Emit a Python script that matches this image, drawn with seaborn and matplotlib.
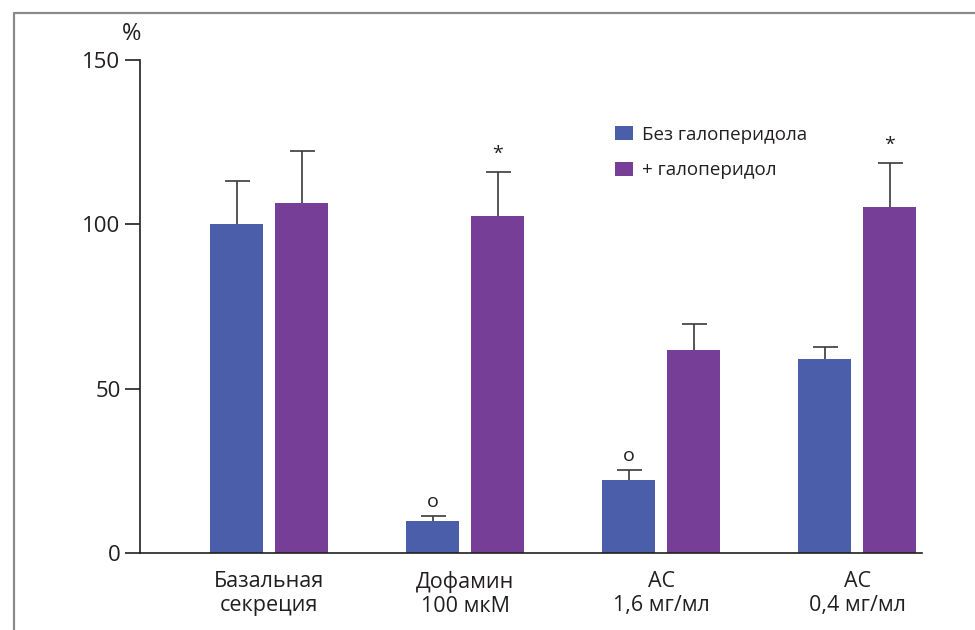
import matplotlib
matplotlib.use("Agg")
import matplotlib.pyplot as plt
from matplotlib.lines import Line2D
import seaborn as sns
import pandas as pd

# Secretion levels (% of basal) with and without haloperidol
categories = ["Базальная\nсекреция", "Дофамин\n100 мкМ", "АС\n1,6 мг/мл", "АС\n0,4 мг/мл"]
series_names = ["Без галоперидола", "+ галоперидол"]
without_halo = [100.0, 9.7, 22.2, 58.9]
without_halo_err = [13.1, 1.5, 3.0, 3.9]
with_halo = [106.4, 102.6, 61.9, 105.4]
with_halo_err = [15.8, 13.4, 7.9, 13.3]
# significance marks drawn above the error caps
marks_without = ["", "o", "o", ""]
marks_with = ["", "*", "", "*"]
y_ticks = [0, 50, 100, 150]

df = pd.DataFrame({
    "cat": categories * 2,
    "series": [series_names[0]] * 4 + [series_names[1]] * 4,
    "value": without_halo + with_halo,
})

sns.set_theme(style="white")
plt.rcParams["font.family"] = ["Open Sans", "DejaVu Sans"]
text_color = "#231f20"

fig = plt.figure(figsize=(9.75, 6.3), dpi=100)
ax = fig.add_axes([140 / 975, 1 - 553 / 630, (922 - 140) / 975, (553 - 60) / 630])

palette = {series_names[0]: "#4a5ea9", series_names[1]: "#763e96"}
sns.barplot(data=df, x="cat", y="value", hue="series", order=categories,
            hue_order=series_names, palette=palette, width=0.663, gap=0.186,
            errorbar=None, saturation=1, ax=ax, linewidth=0)

errs = [without_halo_err, with_halo_err]
vals = [without_halo, with_halo]
marks = [marks_without, marks_with]
for cont, v, e, m in zip(ax.containers, vals, errs, marks):
    xs = [b.get_x() + b.get_width() / 2 for b in cont]
    _, caps, _ = ax.errorbar(xs, v, yerr=[[0] * len(e), e], fmt="none", ecolor="#3a3a3a",
                             elinewidth=1.2, capsize=9, capthick=1.2, zorder=3)
    # keep only the upper caps
    caps[0].set_visible(False)
    for x, val, err, mk in zip(xs, v, e, m):
        if mk:
            off = 13 if mk == "*" else 10
            ax.annotate(mk, (x, val + err), xytext=(0, off), textcoords="offset points",
                        ha="center", va="center", fontsize=14 if mk == "*" else 14,
                        color=text_color)

ax.set_xlim(-0.658, 3.33)
ax.set_ylim(0, 150)
ax.set_yticks(y_ticks)
ax.set_yticklabels([str(t) for t in y_ticks], fontsize=16, color=text_color)
ax.set_xticks(range(len(categories)))
ax.set_xticklabels(categories, fontsize=15.5, color=text_color, linespacing=1.2)
ax.tick_params(axis="y", length=11, width=1.2, color="#231f20", pad=3, direction="out", left=True)
ax.tick_params(axis="x", length=0, pad=13)
ax.set_xlabel("")
ax.set_ylabel("")

for side in ["top", "right"]:
    ax.spines[side].set_visible(False)
for side in ["left", "bottom"]:
    ax.spines[side].set_color("#231f20")
    ax.spines[side].set_linewidth(1.2)

ax.annotate("%", (0, 150), xycoords=("axes fraction", "data"), xytext=(-6, 19),
            textcoords="offset points", ha="center", va="center", fontsize=17,
            color=text_color, annotation_clip=False)

handles, labels = ax.get_legend_handles_labels()
ax.legend(handles, labels, loc="upper left", bbox_to_anchor=(0.607, 0.867),
          frameon=False, fontsize=13.5, handlelength=1.0, handleheight=0.8,
          handletextpad=0.45, labelspacing=0.95, borderpad=0, borderaxespad=0,
          labelcolor=text_color)

# outer frame lines (left and top)
fig.add_artist(Line2D([14 / 975, 14 / 975, 1.0], [0.0, 1 - 13 / 630, 1 - 13 / 630],
                      transform=fig.transFigure, color="#8a8a8a", lw=1.6))

fig.savefig("out.png", dpi=100)
